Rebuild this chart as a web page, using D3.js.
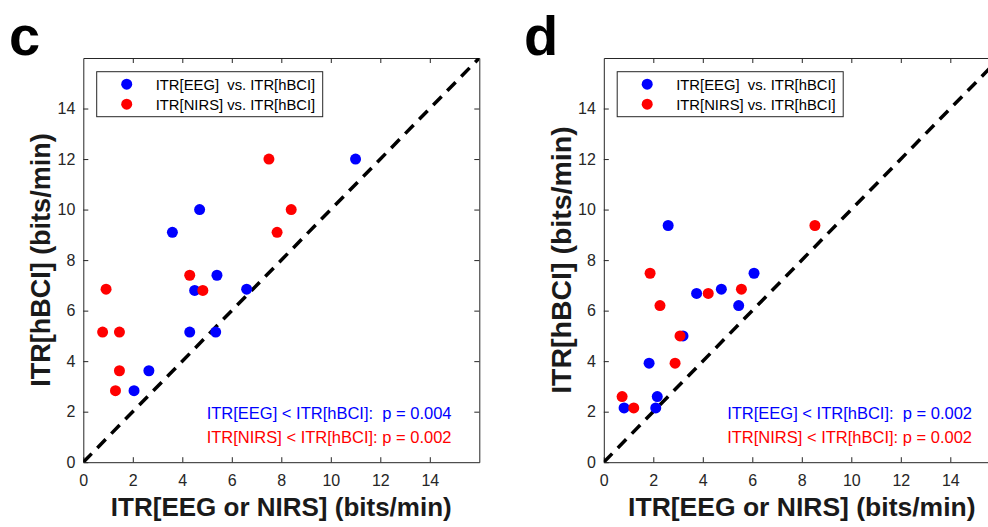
<!DOCTYPE html>
<html lang="en">
<head>
<meta charset="UTF-8">
<title>ITR scatter</title>
<script src="https://cdn.jsdelivr.net/npm/d3@7"></script>
<style>
  body { margin: 0; background: #fff; }
  text { font-family: "Liberation Sans", Arial, Helvetica, sans-serif; white-space: pre; }
</style>
</head>
<body>
<svg width="988" height="527"></svg>
<script>
// panel c
var cEegX  = [11.0, 4.7, 3.6, 5.4, 4.5, 6.6, 4.3, 5.35, 2.65, 2.05];
var cEegY  = [12.0, 10.0, 9.1, 7.4, 6.8, 6.85, 5.15, 5.15, 3.62, 2.83];
var cNirsX = [7.5, 8.4, 7.83, 4.3, 4.83, 0.92, 0.78, 1.46, 1.46, 1.3];
var cNirsY = [12.0, 10.0, 9.1, 7.4, 6.8, 6.85, 5.15, 5.15, 3.62, 2.83];
// panel d
var dEegX  = [2.6, 6.07, 4.75, 3.75, 5.45, 3.2, 1.83, 2.16, 2.1, 0.82];
var dEegY  = [9.37, 7.48, 6.85, 6.68, 6.2, 5.0, 3.92, 2.6, 2.15, 2.15];
var dNirsX = [8.53, 1.87, 5.56, 4.22, 2.27, 3.08, 2.88, 0.74, 1.21];
var dNirsY = [9.37, 7.48, 6.85, 6.68, 6.2, 5.0, 3.92, 2.6, 2.15];

var tickValues = [0, 2, 4, 6, 8, 10, 12, 14];
var legendLabels = ["ITR[EEG]  vs. ITR[hBCI]", "ITR[NIRS] vs. ITR[hBCI]"];
var cStats = ["ITR[EEG] < ITR[hBCI]:  p = 0.004", "ITR[NIRS] < ITR[hBCI]: p = 0.002"];
var dStats = ["ITR[EEG] < ITR[hBCI]:  p = 0.002", "ITR[NIRS] < ITR[hBCI]: p = 0.002"];

var svg = d3.select("svg");
var axisColor = "#262626";
var blue = "#0000ff", red = "#ff0000";

function zip(xs, ys) {
    return xs.map(function(v, i) { return [v, ys[i]]; });
}

function panel(opt) {
    var x = d3.scaleLinear().domain([0, 16]).range([opt.left, opt.left + 396]);
    var y = d3.scaleLinear().domain([0, 16]).range([462.2, 58]);
    var g = svg.append("g");

    // clip to the axes box
    g.append("clipPath").attr("id", "clip-" + opt.name)
        .append("rect")
        .attr("x", x(0)).attr("y", y(16))
        .attr("width", x(16) - x(0)).attr("height", y(0) - y(16));

    // axes: ticks inside, on all four sides
    g.append("g").attr("transform", "translate(0," + y(0) + ")")
        .call(d3.axisBottom(x).tickValues(tickValues).tickSizeInner(-5).tickSizeOuter(0).tickPadding(12));
    g.append("g").attr("transform", "translate(" + x(0) + ",0)")
        .call(d3.axisLeft(y).tickValues(tickValues).tickSizeInner(-5).tickSizeOuter(0).tickPadding(8));
    g.append("g").attr("transform", "translate(0," + y(16) + ")")
        .call(d3.axisTop(x).tickValues(tickValues.slice(1)).tickSizeInner(-5).tickSizeOuter(0).tickFormat(""));
    g.append("g").attr("transform", "translate(" + x(16) + ",0)")
        .call(d3.axisRight(y).tickValues(tickValues.slice(1)).tickSizeInner(-5).tickSizeOuter(0).tickFormat(""));
    g.selectAll(".domain").attr("stroke", axisColor);
    g.selectAll(".tick line").attr("stroke", axisColor);
    g.selectAll(".tick text").attr("fill", axisColor).style("font-size", "16px")
        .style("font-family", "'Liberation Sans', Arial, sans-serif");

    var plot = g.append("g").attr("clip-path", "url(#clip-" + opt.name + ")");

    // identity line
    plot.append("line")
        .attr("x1", x(0)).attr("y1", y(0))
        .attr("x2", x(16)).attr("y2", y(16))
        .attr("stroke", "#000")
        .attr("stroke-width", 3.5)
        .attr("stroke-dasharray", "12,8");

    plot.selectAll("circle.eeg")
        .data(zip(opt.eegX, opt.eegY))
        .enter().append("circle")
        .attr("class", "eeg")
        .attr("cx", function(d) { return x(d[0]); })
        .attr("cy", function(d) { return y(d[1]); })
        .attr("r", 5.5)
        .attr("fill", blue);

    plot.selectAll("circle.nirs")
        .data(zip(opt.nirsX, opt.nirsY))
        .enter().append("circle")
        .attr("class", "nirs")
        .attr("cx", function(d) { return x(d[0]); })
        .attr("cy", function(d) { return y(d[1]); })
        .attr("r", 5.5)
        .attr("fill", red);

    // legend
    var lg = g.append("g").attr("transform", "translate(" + (x(0) + 13.4) + ",71.7)");
    lg.append("rect").attr("width", 226).attr("height", 45)
        .attr("fill", "#fff").attr("stroke", axisColor).attr("stroke-width", 1);
    legendLabels.forEach(function(t, i) {
        lg.append("circle").attr("cx", 30).attr("cy", 12.5 + i * 20).attr("r", 5.5)
            .attr("fill", i === 0 ? blue : red);
        lg.append("text").attr("x", 59).attr("y", 18 + i * 20)
            .style("font-size", "14.8px").attr("fill", "#000").text(t);
    });

    // p values
    opt.stats.forEach(function(t, i) {
        g.append("text")
            .attr("x", x(0) + 123.4).attr("y", 419 + i * 24)
            .style("font-size", "16.5px")
            .attr("fill", i === 0 ? blue : red)
            .text(t);
    });

    // axis titles
    g.append("text")
        .attr("x", (x(0) + x(16)) / 2).attr("y", 516)
        .attr("text-anchor", "middle")
        .style("font-size", opt.xFont + "px").style("font-weight", "bold")
        .attr("fill", "#1a1a1a")
        .text("ITR[EEG or NIRS] (bits/min)");
    g.append("text")
        .attr("transform", "translate(" + (x(0) - 33) + "," + ((y(0) + y(16)) / 2) + ") rotate(-90)")
        .attr("text-anchor", "middle")
        .style("font-size", opt.yFont + "px").style("font-weight", "bold")
        .attr("fill", "#1a1a1a")
        .text("ITR[hBCI] (bits/min)");

    // panel letter
    g.append("text")
        .attr("x", opt.letterX).attr("y", 55)
        .style("font-size", "56px").style("font-weight", "bold")
        .attr("fill", "#000")
        .text(opt.name);
}

panel({ name: "c", left: 83.3, letterX: 9, eegX: cEegX, eegY: cEegY, nirsX: cNirsX, nirsY: cNirsY,
        stats: cStats, xFont: 26, yFont: 27 });
panel({ name: "d", left: 603.8, letterX: 524, eegX: dEegX, eegY: dEegY, nirsX: dNirsX, nirsY: dNirsY,
        stats: dStats, xFont: 26.5, yFont: 28.5 });
</script>
</body>
</html>
